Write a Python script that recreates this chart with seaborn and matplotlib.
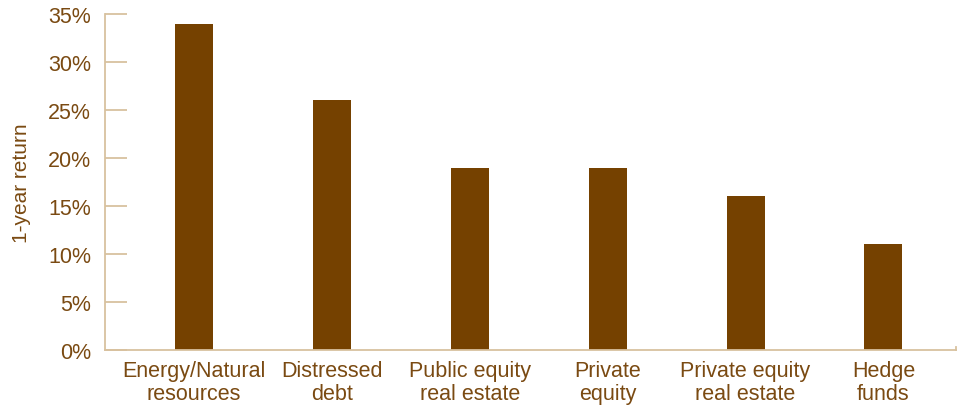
import matplotlib
matplotlib.use("Agg")
import matplotlib.pyplot as plt
import seaborn as sns
import pandas as pd

categories = ["Energy/Natural\nresources", "Distressed\ndebt", "Public equity\nreal estate",
              "Private\nequity", "Private equity\nreal estate", "Hedge\nfunds"]
returns = [34, 26, 19, 19, 16, 11]
yticks = [0, 5, 10, 15, 20, 25, 30, 35]
ytick_labels = [f"{v}%" for v in yticks]

BAR = "#754100"
TEXT = "#7a4a12"
AXIS = "#d8c19f"

sns.set_theme(style="white")
plt.rcParams["font.family"] = ["Liberation Sans", "DejaVu Sans"]

df = pd.DataFrame({"category": categories, "ret": returns})

fig = plt.figure(figsize=(9.63, 4.10), dpi=100)
ax = fig.add_axes([105/963, 59/410, (956-105)/963, (351-15)/410])
sns.barplot(data=df, x="category", y="ret", color=BAR, saturation=1, width=0.276,
            linewidth=0, ax=ax)

ax.set_xlim(-0.645, 5.526)
ax.set_ylim(0, 35)
ax.set_yticks(yticks)
ax.set_yticklabels(ytick_labels)
ax.set_xlabel("")
ax.set_ylabel("1-year return", color=TEXT, fontsize=15, labelpad=12)

for s in ["top"]:
    ax.spines[s].set_visible(False)
for s in ["left", "bottom", "right"]:
    ax.spines[s].set_color(AXIS)
    ax.spines[s].set_linewidth(1.3)
ax.spines["right"].set_bounds(0, 0.35)

ax.tick_params(axis="y", direction="in", length=16, width=1.3, color=AXIS,
               labelcolor=TEXT, labelsize=15.5, pad=10, left=True)
ax.tick_params(axis="x", length=0, labelcolor=TEXT, labelsize=15.5, pad=7)
for lbl in ax.get_xticklabels():
    lbl.set_linespacing(1.12)

fig.savefig("out.png", dpi=100, facecolor="white")
